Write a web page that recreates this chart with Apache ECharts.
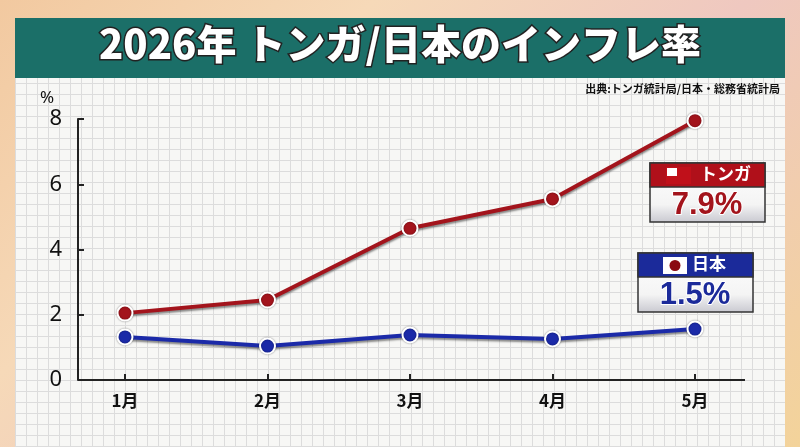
<!DOCTYPE html>
<html><head><meta charset="utf-8">
<script src="https://cdn.jsdelivr.net/npm/echarts@6/dist/echarts.min.js"></script>
<style>
html,body{margin:0;padding:0;}
body{width:800px;height:447px;position:relative;overflow:hidden;
background:linear-gradient(135deg,#f2c9a0,#f6d9b8 30%,#efc8c0 60%,#f3d39a);}
#panel{position:absolute;left:15px;top:78px;width:770px;height:369px;background-color:#f7f7f5;
background-image:repeating-linear-gradient(0deg,#dcdcdc 0 1px,transparent 1px 11px),repeating-linear-gradient(90deg,#dcdcdc 0 1px,transparent 1px 11px);}
#bar{position:absolute;left:15px;top:18px;width:770px;height:60px;background:#1b6f68;}
#c{position:absolute;left:0;top:0;width:800px;height:447px;}
</style></head><body>
<div id="bar"></div><div id="panel"></div>
<div id="c"></div>
<script>
const categories=['1月','2月','3月','4月','5月'];
const tonga=[2.05,2.45,4.65,5.55,7.95];
const japan=[1.32,1.04,1.38,1.26,1.56];
const yTicks=[0,2,4,6,8];
const chart=echarts.init(document.getElementById('c'),null,{renderer:'canvas'});
function lineS(name,data,col){return {name,type:'line',data,symbol:'circle',symbolSize:15,
 lineStyle:{color:col,width:4,shadowColor:'rgba(0,0,0,0.45)',shadowOffsetY:2,shadowBlur:2},
 itemStyle:{color:col,borderColor:'#fff',borderWidth:2,shadowColor:'rgba(0,0,0,0.4)',shadowBlur:2},z:3};}
chart.setOption({
 animation:false,
 grid:{left:125,right:105,top:119,bottom:67},
 xAxis:{type:'category',data:categories,boundaryGap:false,
  axisLine:{show:false},axisTick:{show:true,alignWithLabel:true,inside:true,length:6,lineStyle:{color:'#222',width:2}},
  axisLabel:{color:'#111',fontSize:17,fontWeight:'bold',margin:12,fontFamily:'Noto Sans CJK JP'}},
 yAxis:{type:'value',min:0,max:8,interval:2,offset:47,
  axisLine:{show:true,lineStyle:{color:'#222',width:2}},axisTick:{show:true,inside:true,length:6,lineStyle:{color:'#222',width:2}},
  splitLine:{show:false},
  axisLabel:{color:'#111',fontSize:22,margin:16,fontFamily:'Noto Sans',formatter:v=>yTicks.includes(v)?String(v):''}},
 series:[lineS('トンガ',tonga,'#a3141c'),lineS('日本',japan,'#1b2aa8')],
 graphic:[
  {type:'line',shape:{x1:78,y1:380,x2:745,y2:380},style:{stroke:'#222',lineWidth:2}},
  {type:'text',left:'center',top:22,style:{text:'2026年 トンガ/日本のインフレ率',fontSize:40,fontWeight:900,fill:'#fff',stroke:'#222',lineWidth:3,fontFamily:'Noto Sans CJK JP'}},
  {type:'text',right:20,top:83,style:{text:'出典:トンガ統計局/日本・総務省統計局',fontSize:11,fontWeight:'bold',fill:'#111',fontFamily:'Noto Sans CJK JP'}},
  {type:'text',left:40,top:90,style:{text:'%',fontSize:17,fill:'#111',fontFamily:'Noto Sans'}},
  {type:'rect',shape:{x:650,y:163,width:115,height:59},style:{fill:{type:'linear',x:0,y:0,x2:0,y2:1,colorStops:[{offset:0,color:'#fff'},{offset:0.7,color:'#f4f4f4'},{offset:1,color:'#c8c8d0'}]},stroke:'#333',lineWidth:1.5}},
  {type:'rect',shape:{x:650,y:163,width:115,height:24},style:{fill:'#b0101a',stroke:'#333',lineWidth:1.5}},
  {type:'rect',shape:{x:666,y:167,width:25,height:17},style:{fill:'#c0101a',stroke:'#fff',lineWidth:0}},
  {type:'rect',shape:{x:667,y:168,width:10,height:8},style:{fill:'#fff'}},
  {type:'text',x:700,y:165,style:{text:'トンガ',fontSize:17,fontWeight:'bold',fill:'#fff',fontFamily:'Noto Sans CJK JP'}},
  {type:'text',x:707,y:205,style:{text:'7.9%',fontSize:31,fontWeight:'bold',fill:'#a3141c',stroke:'#fff',lineWidth:2,align:'center',verticalAlign:'middle',fontFamily:'Liberation Sans'}},
  {type:'rect',shape:{x:638,y:253,width:115,height:59},style:{fill:{type:'linear',x:0,y:0,x2:0,y2:1,colorStops:[{offset:0,color:'#fff'},{offset:0.7,color:'#f4f4f4'},{offset:1,color:'#c8c8d0'}]},stroke:'#333',lineWidth:1.5}},
  {type:'rect',shape:{x:638,y:253,width:115,height:24},style:{fill:'#1b2a9a',stroke:'#333',lineWidth:1.5}},
  {type:'rect',shape:{x:663,y:257,width:24,height:17},style:{fill:'#fff'}},
  {type:'circle',shape:{cx:675,cy:265.5,r:5.5},style:{fill:'#8a0a12'}},
  {type:'text',x:692,y:255,style:{text:'日本',fontSize:17,fontWeight:'bold',fill:'#fff',fontFamily:'Noto Sans CJK JP'}},
  {type:'text',x:695,y:295,style:{text:'1.5%',fontSize:31,fontWeight:'bold',fill:'#1b2a9a',stroke:'#fff',lineWidth:2,align:'center',verticalAlign:'middle',fontFamily:'Liberation Sans'}}
 ]
});
</script></body></html>
